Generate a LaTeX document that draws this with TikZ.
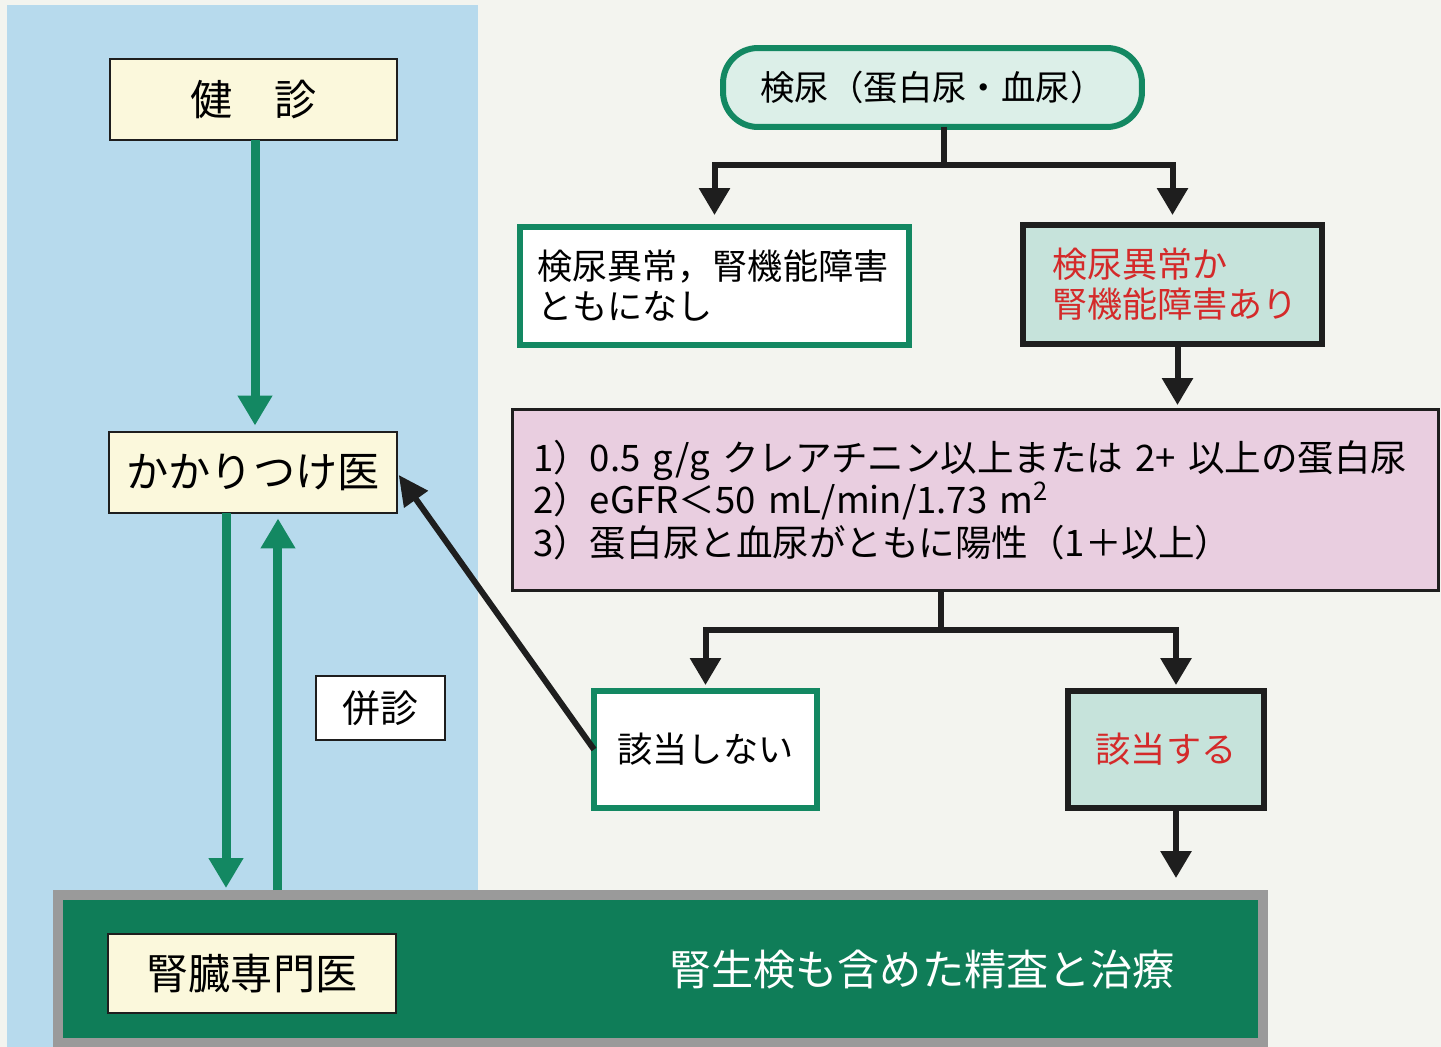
\documentclass[tikz,border=0pt]{standalone}
\usepackage{fontspec}
\setmainfont{Noto Sans CJK JP}
\usetikzlibrary{arrows.meta,calc}
\definecolor{bgc}{HTML}{F3F4EF}
\definecolor{bluec}{HTML}{B7DAED}
\definecolor{yelc}{HTML}{FBF8DC}
\definecolor{grn}{HTML}{138862}
\definecolor{tealA}{HTML}{DCEFE8}
\definecolor{tealB}{HTML}{C6E3DB}
\definecolor{pinkc}{HTML}{E9CEE0}
\definecolor{redc}{HTML}{D42A2A}
\definecolor{grayc}{HTML}{9A9A9A}
\definecolor{dgrn}{HTML}{0F7D58}
\definecolor{blk}{HTML}{1E1E1E}
\begin{document}
\begin{tikzpicture}[x=0.02cm,y=-0.02cm,
  every node/.style={outer sep=0pt},
  ybox/.style={draw=blk, line width=0.04cm, fill=yelc, minimum width=5.76cm, minimum height=1.64cm, font=\fontsize{24pt}{28pt}\selectfont},
  gbox/.style={draw=grn, line width=0.12cm, fill=white, font=\fontsize{20pt}{22.7pt}\selectfont},
  kbox/.style={draw=blk, line width=0.12cm, fill=tealB, text=redc, font=\fontsize{20pt}{22.7pt}\selectfont},
  garrow/.style={draw=grn, line width=0.18cm, -{Triangle[width=0.66cm,length=0.6cm]}},
  bline/.style={draw=blk, line width=0.12cm},
  barrow/.style={bline, -{Triangle[width=0.6cm,length=0.54cm]}},
]
\useasboundingbox (0,0) rectangle (1441,1047);
\fill[bgc] (0,0) rectangle (1441,1047);
\fill[bluec] (7,5) rectangle (478,1047);

% left column
\node[ybox] (kenshin) at (253.5,99.5) {健　診};
\node[ybox] (kakari) at (253,472.5) {かかりつけ医};
\node[draw=blk, line width=0.04cm, fill=white, minimum width=2.58cm, minimum height=1.28cm, font=\fontsize{21.5pt}{25pt}\selectfont] (heishin) at (380.5,708) {併診};

% bottom band
\node[draw=grayc, line width=0.2cm, fill=dgrn, minimum width=24.1cm, minimum height=2.96cm] (bottom) at (660.5,969) {};
\node[ybox, minimum height=1.6cm] (jinzo) at (252,973.5) {腎臓専門医};
\node[text=white, font=\fontsize{24pt}{28pt}\selectfont] (seisa) at (922,970) {腎生検も含めた精査と治療};

% right flow
\node[draw=grn, line width=0.12cm, fill=tealA, rounded corners=0.7cm, minimum width=8.38cm, minimum height=1.58cm, font=\fontsize{19.6pt}{22pt}\selectfont] (kennyo) at (932.5,87.5) {検尿（蛋白尿・血尿）};
\node[gbox, minimum width=7.78cm, minimum height=2.36cm, text width=7.1cm, inner xsep=0.34cm, align=left] (nashi) at (714.5,286) {検尿異常，腎機能障害\\ともになし};
\node[kbox, minimum width=5.98cm, minimum height=2.38cm, text width=4.82cm, inner xsep=0.58cm, align=left] (ari) at (1172.5,284.5) {検尿異常か\\腎機能障害あり};
\node[draw=blk, line width=0.06cm, fill=pinkc, minimum width=18.52cm, minimum height=3.62cm, text width=17.7cm, inner xsep=0.41cm, align=left, font=\fontsize{20.8pt}{24.4pt}\selectfont] (crit) at (975.5,500) {1）0.5 g/g クレアチニン以上または 2+ 以上の蛋白尿\\2）eGFR＜50 mL/min/1.73 m\textsuperscript{2}\\3）蛋白尿と血尿がともに陽性（1＋以上）};
\node[gbox, minimum width=4.46cm, minimum height=2.34cm] (no) at (705.5,749.5) {該当しない};
\node[kbox, minimum width=3.92cm, minimum height=2.34cm] (yes) at (1166,749.5) {該当する};

% green arrows
\draw[garrow, shorten >=0.12cm] ([xshift=0.03cm]kenshin.south) -- ([xshift=0.03cm]kenshin.south |- kakari.north);
\draw[garrow, shorten >=0.14cm] ([xshift=-0.54cm]kakari.south) -- ([xshift=-0.54cm]kakari.south |- bottom.north);
\draw[garrow, shorten <=0.1cm, shorten >=0.1cm] ([xshift=0.5cm]kakari.south |- bottom.north) -- ([xshift=0.5cm]kakari.south);

% black connectors
\draw[bline, -{Triangle[width=0.56cm,length=0.6cm]}, shorten >=0.06cm] (no.west) -- (kakari.east);
\coordinate (j1) at ($(kennyo.south)+(11,38)$);
\draw[bline] (kennyo.south -| j1) -- (j1);
\draw[barrow, shorten >=0.24cm] (j1) -| (nashi.north);
\draw[barrow, shorten >=0.2cm] (j1) -| (ari.north);
\draw[barrow, shorten >=0.09cm] ([xshift=0.1cm]ari.south) -- ([xshift=0.1cm]ari.south |- crit.north);
\coordinate (j2) at ($(crit.south)+(-34.5,39.5)$);
\draw[bline] (crit.south -| j2) -- (j2);
\draw[barrow, shorten >=0.12cm] (j2) -| (no.north);
\draw[barrow, shorten >=0.12cm] (j2) -| ([xshift=0.2cm]yes.north);
\draw[barrow, shorten >=0.34cm] ([xshift=0.2cm]yes.south) -- ([xshift=0.2cm]yes.south |- bottom.north);
\end{tikzpicture}
\end{document}
